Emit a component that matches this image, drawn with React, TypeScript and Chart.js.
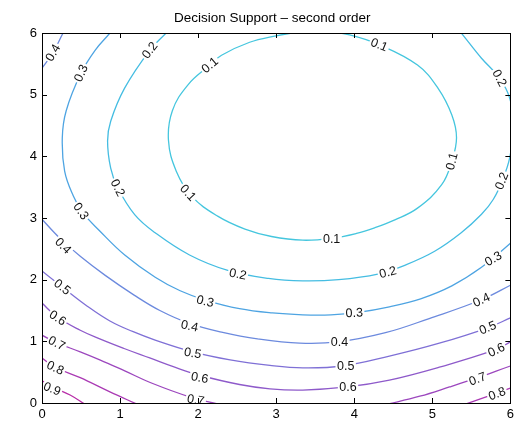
import React, { useEffect, useRef } from "react";
import { Chart, registerables } from "chart.js";

Chart.register(...registerables);

const titleText = "Decision Support \u2013 second order";
const xTicks = [0, 1, 2, 3, 4, 5, 6];
const yTicks = [0, 1, 2, 3, 4, 5, 6];

// contour lines as [x, y]
const c01: number[][] = [[3.30,6.02],[3.68,6.01],[3.94,5.97],[4.32,5.81],[4.81,5.48],[5.07,5.11],[5.25,4.67],[5.31,4.30],[5.25,3.92],[5.12,3.54],[4.81,3.16],[4.52,2.97],[4.26,2.84],[4.03,2.75],[3.71,2.67],[3.34,2.64],[2.94,2.70],[2.60,2.82],[2.25,3.03],[1.92,3.35],[1.72,3.76],[1.62,4.26],[1.67,4.74],[1.87,5.16],[2.15,5.48],[2.30,5.64],[2.66,5.85],[2.98,5.95],[3.30,6.02]];
const c02: number[][] = [[1.66,6.10],[1.59,6.00],[1.38,5.72],[1.06,5.11],[0.88,4.57],[0.84,4.25],[0.88,3.81],[0.97,3.49],[1.19,3.05],[1.45,2.76],[1.89,2.40],[2.38,2.15],[2.90,2.02],[3.34,1.98],[3.80,2.00],[4.30,2.09],[4.66,2.24],[5.03,2.46],[5.37,2.76],[5.63,3.06],[5.78,3.30],[5.90,3.62],[5.99,3.97],[6.04,4.50],[5.99,4.95],[5.86,5.27],[5.63,5.59],[5.39,5.97],[5.32,6.08]];
const c03: number[][] = [[0.90,6.06],[0.87,6.00],[0.68,5.72],[0.50,5.35],[0.31,4.74],[0.26,4.30],[0.29,3.76],[0.40,3.36],[0.52,3.09],[0.74,2.79],[1.06,2.40],[1.45,2.04],[1.77,1.82],[2.09,1.67],[2.53,1.53],[2.95,1.46],[3.34,1.43],[3.70,1.43],[4.05,1.47],[4.45,1.56],[4.85,1.69],[5.25,1.90],[5.63,2.20],[6.00,2.59],[6.06,2.68]];
const c04a: number[][] = [[0.30,6.06],[0.27,6.00],[0.14,5.68],[0.00,5.43],[-0.03,5.38]];
const c04b: number[][] = [[-0.03,3.03],[0.00,2.98],[0.23,2.67],[0.49,2.38],[0.81,2.07],[1.18,1.75],[1.51,1.50],[1.89,1.29],[2.30,1.15],[2.76,1.04],[3.30,0.97],[3.79,0.99],[4.40,1.14],[4.96,1.37],[5.62,1.67],[6.00,1.91],[6.05,1.95]];
const c05: number[][] = [[-0.03,2.18],[0.00,2.14],[0.26,1.88],[0.58,1.57],[0.87,1.33],[1.16,1.16],[1.45,1.02],[1.93,0.83],[2.41,0.70],[2.92,0.61],[3.34,0.57],[3.85,0.60],[4.45,0.76],[5.09,0.97],[5.71,1.22],[6.00,1.38],[6.05,1.41]];
const c06: number[][] = [[-0.03,1.66],[0.00,1.62],[0.20,1.39],[0.49,1.18],[0.74,1.04],[1.06,0.88],[1.38,0.73],[1.70,0.58],[2.02,0.45],[2.53,0.30],[2.92,0.23],[3.34,0.21],[3.91,0.26],[4.45,0.37],[5.09,0.58],[5.80,0.86],[6.00,0.99],[6.05,1.02]];
const c07a: number[][] = [[-0.03,1.14],[0.00,1.10],[0.20,0.97],[0.49,0.83],[0.74,0.70],[1.06,0.52],[1.41,0.32],[1.89,0.10],[2.30,-0.03]];
const c07b: number[][] = [[4.39,-0.03],[4.84,0.11],[5.22,0.26],[5.58,0.41],[6.00,0.60],[6.05,0.62]];
const c08a: number[][] = [[-0.03,0.76],[0.00,0.73],[0.17,0.58],[0.49,0.41],[0.87,0.18],[1.22,-0.02]];
const c08b: number[][] = [[5.42,-0.02],[5.83,0.16],[6.00,0.24],[6.05,0.26]];
const c09: number[][] = [[-0.03,0.38],[0.00,0.36],[0.17,0.24],[0.36,0.13],[0.55,-0.02]];

const lineSets = [c01, c02, c03, c04a, c04b, c05, c06, c07a, c07b, c08a, c08b, c09];
const lineLevels = ["0.1", "0.2", "0.3", "0.4", "0.4", "0.5", "0.6", "0.7", "0.7", "0.8", "0.8", "0.9"];
const levelColors: Record<string, string> = {
  "0.1": "#45c6de",
  "0.2": "#45bde2",
  "0.3": "#4ea4e2",
  "0.4": "#6c8ade",
  "0.5": "#7f70d6",
  "0.6": "#8e5aca",
  "0.7": "#9c47be",
  "0.8": "#aa3ab4",
  "0.9": "#b82ea8",
};

// inline contour labels
const labelText = ["0.4","0.3","0.2","0.1","0.1","0.2","0.1","0.2","0.2","0.1","0.3","0.4","0.5","0.6","0.7","0.8","0.9","0.2","0.3","0.4","0.5","0.6","0.7","0.1","0.2","0.3","0.3","0.4","0.4","0.5","0.5","0.6","0.6","0.7","0.8"];
const labelX = [0.14,0.50,1.38,2.15,4.32,5.86,5.25,5.89,0.97,1.87,0.50,0.27,0.26,0.20,0.19,0.17,0.13,2.51,2.09,1.89,1.93,2.02,1.97,3.71,4.43,4.00,5.78,3.81,5.63,3.89,5.71,3.92,5.82,5.58,5.83];
const labelY = [5.68,5.35,5.72,5.48,5.81,5.27,3.92,3.60,3.49,3.41,3.11,2.55,1.88,1.38,0.97,0.57,0.23,2.09,1.65,1.25,0.81,0.41,0.05,2.66,2.12,1.46,2.34,0.99,1.67,0.60,1.22,0.26,0.86,0.39,0.15];
const labelAngle = [-60,-65,-53,-40,22,62,-75,-68,63,47,55,45,38,33,27,25,22,12,14,12,10,10,10,0,-15,-3,-30,0,-25,0,-22,0,-25,-20,-20];

const fontFamily = '"Liberation Sans", Arial, sans-serif';

const framePlugin = {
  id: "frameAndLabels",
  afterDatasetsDraw(chart: any) {
    const { ctx, chartArea, scales } = chart;
    const xs = scales.x, ys = scales.y;
    ctx.save();
    ctx.beginPath();
    ctx.rect(chartArea.left, chartArea.top, chartArea.right - chartArea.left, chartArea.bottom - chartArea.top);
    ctx.clip();
    ctx.font = "12.5px " + fontFamily;
    ctx.textAlign = "center";
    ctx.textBaseline = "middle";
    labelText.forEach((t, i) => {
      const px = xs.getPixelForValue(labelX[i]);
      const py = ys.getPixelForValue(labelY[i]);
      ctx.save();
      ctx.translate(px, py);
      ctx.rotate((labelAngle[i] * Math.PI) / 180);
      const w = ctx.measureText(t).width;
      ctx.fillStyle = "#ffffff";
      ctx.fillRect(-w / 2 - 1.5, -5.5, w + 3, 11);
      ctx.fillStyle = "#111111";
      ctx.fillText(t, 0, 0.5);
      ctx.restore();
    });
    ctx.restore();
  },
  afterDraw(chart: any) {
    const { ctx, chartArea, scales } = chart;
    const xs = scales.x, ys = scales.y;
    const { left, right, top, bottom } = chartArea;
    ctx.save();
    ctx.strokeStyle = "#000";
    ctx.lineWidth = 1;
    ctx.strokeRect(Math.round(left) + 0.5, Math.round(top) + 0.5, Math.round(right - left), Math.round(bottom - top));
    ctx.beginPath();
    const tl = 5;
    xTicks.forEach((v) => {
      const px = Math.round(xs.getPixelForValue(v)) + 0.5;
      ctx.moveTo(px, bottom);
      ctx.lineTo(px, bottom - tl);
      ctx.moveTo(px, top);
      ctx.lineTo(px, top + tl);
    });
    yTicks.forEach((v) => {
      const py = Math.round(ys.getPixelForValue(v)) + 0.5;
      ctx.moveTo(left, py);
      ctx.lineTo(left + tl, py);
      ctx.moveTo(right, py);
      ctx.lineTo(right - tl, py);
    });
    ctx.stroke();
    ctx.fillStyle = "#000";
    ctx.font = "13.5px " + fontFamily;
    ctx.textAlign = "center";
    ctx.textBaseline = "middle";
    ctx.fillText(titleText, (left + right) / 2 - 4, top - 15);
    ctx.restore();
  },
};

export default function App() {
  const ref = useRef<HTMLCanvasElement | null>(null);
  useEffect(() => {
    if (!ref.current) return;
    const datasets: any[] = lineSets.map((pts, i) => ({
      label: lineLevels[i],
      data: pts.map((p) => ({ x: p[0], y: p[1] })),
      showLine: true,
      borderColor: levelColors[lineLevels[i]],
      backgroundColor: levelColors[lineLevels[i]],
      borderWidth: 1.3,
      pointRadius: 0,
      tension: 0.4,
      fill: false,
    }));
    const chart = new Chart(ref.current, {
      type: "scatter",
      data: { datasets },
      options: {
        animation: false,
        responsive: false,
        events: [],
        layout: { padding: { top: 33, right: 7, left: 0, bottom: 0 } },
        plugins: { legend: { display: false }, tooltip: { enabled: false }, title: { display: false } },
        scales: {
          x: {
            type: "linear",
            min: 0,
            max: 6,
            afterFit: (s: any) => { s.height = 21; },
            afterBuildTicks: (s: any) => { s.ticks = xTicks.map((v) => ({ value: v })); },
            ticks: { color: "#000", padding: 4, font: { size: 13, family: fontFamily } },
            grid: { display: false, drawTicks: false, tickLength: 0 },
            border: { display: false },
          },
          y: {
            type: "linear",
            min: 0,
            max: 6,
            afterFit: (s: any) => { s.width = 42; },
            afterBuildTicks: (s: any) => { s.ticks = yTicks.map((v) => ({ value: v })); },
            ticks: { color: "#000", padding: 5, font: { size: 13, family: fontFamily } },
            grid: { display: false, drawTicks: false, tickLength: 0 },
            border: { display: false },
          },
        },
      },
      plugins: [framePlugin],
    });
    return () => chart.destroy();
  }, []);
  return (
    <div style={{ position: "fixed", left: 0, top: 0, width: 518, height: 424, background: "#fff" }}>
      <canvas ref={ref} width={518} height={424} />
    </div>
  );
}
